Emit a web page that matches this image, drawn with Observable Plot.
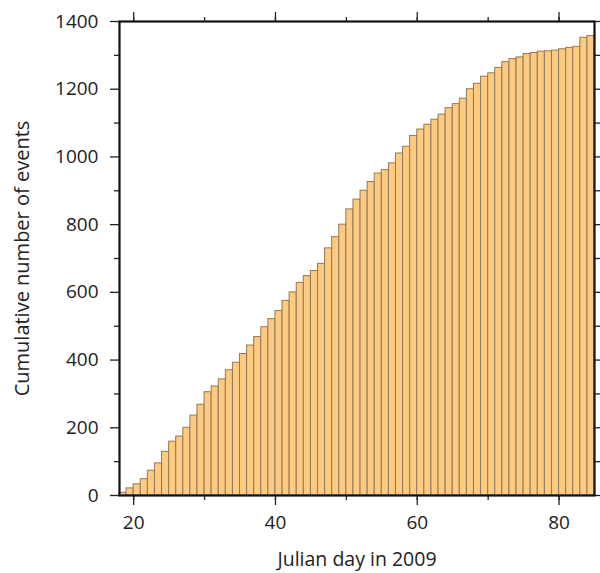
<!DOCTYPE html>
<html>
<head>
<meta charset="utf-8">
<script src="https://cdn.jsdelivr.net/npm/d3@7"></script>
<script src="https://cdn.jsdelivr.net/npm/@observablehq/plot@0.6"></script>
<style>
  html, body { margin: 0; padding: 0; background: #fff; }
  #chart { width: 600px; height: 573px; }
</style>
</head>
<body>
<div id="chart"></div>
<script>
// Julian day (start of each one-day bin) and cumulative count
const days = [18,19,20,21,22,23,24,25,26,27,28,29,30,31,32,33,34,35,36,37,38,39,40,41,42,43,44,45,46,47,48,49,50,51,52,53,54,55,56,57,58,59,60,61,62,63,64,65,66,67,68,69,70,71,72,73,74,75,76,77,78,79,80,81,82,83,84];
const counts = [8,21,33,48,73,95,129,159,174,200,236,268,305,322,343,370,392,418,443,468,497,521,545,575,600,628,648,663,684,730,763,800,845,874,900,926,951,961,981,1010,1030,1062,1081,1095,1110,1125,1144,1156,1172,1200,1216,1237,1247,1263,1280,1289,1294,1304,1307,1311,1312,1314,1318,1322,1325,1352,1357];

const xMajor = [20, 40, 60, 80];
const xMinor = [20, 30, 40, 50, 60, 70, 80];
const yMajor = [0, 200, 400, 600, 800, 1000, 1200, 1400];
const yMinor = [100, 300, 500, 700, 900, 1100, 1300];
const xTitle = "Julian day in 2009";
const yTitle = "Cumulative number of events";

const data = days.map((d, i) => ({day: d, count: counts[i]}));

const font = "'Open Sans', 'Noto Sans', sans-serif";

const chart = Plot.plot({
  width: 600,
  height: 573,
  marginLeft: 119,
  marginRight: 6,
  marginTop: 21,
  marginBottom: 78,
  style: {fontFamily: font, fontSize: "19px", color: "#222", background: "#fff"},
  x: {domain: [18, 85]},
  y: {domain: [0, 1400]},
  marks: [
    Plot.rectY(data, {
      x1: "day",
      x2: d => d.day + 1,
      y: "count",
      fill: "#fdca80",
      stroke: "#8c7a62",
      strokeWidth: 1
    }),
    // bottom axis
    Plot.axisX({anchor: "bottom", ticks: xMinor, tickSize: 5, tickFormat: () => "", strokeWidth: 1.3, label: null}),
    Plot.axisX({anchor: "bottom", ticks: xMajor, tickSize: 10, tickPadding: 10, tickFormat: "d", strokeWidth: 1.3, fontSize: 19, label: null}),
    // top axis (ticks only)
    Plot.axisX({anchor: "top", ticks: xMinor, tickSize: 5, tickFormat: () => "", strokeWidth: 1.3, label: null}),
    Plot.axisX({anchor: "top", ticks: xMajor, tickSize: 10, tickFormat: () => "", strokeWidth: 1.3, label: null}),
    // left axis
    Plot.axisY({anchor: "left", ticks: yMinor, tickSize: 5, tickFormat: () => "", strokeWidth: 1.3, label: null}),
    Plot.axisY({anchor: "left", ticks: yMajor, tickSize: 9, tickPadding: 12, tickFormat: "d", strokeWidth: 1.3, fontSize: 19, label: null}),
    // right axis (ticks only)
    Plot.axisY({anchor: "right", ticks: yMinor, tickSize: 5, tickFormat: () => "", strokeWidth: 1.3, label: null}),
    Plot.axisY({anchor: "right", ticks: yMajor, tickSize: 9, tickFormat: () => "", strokeWidth: 1.3, label: null}),
    Plot.frame({stroke: "#111", strokeWidth: 2.2}),
    Plot.text([xTitle], {frameAnchor: "bottom", dy: 64, fontSize: 19.5, fill: "#222", textAnchor: "middle", lineAnchor: "middle"}),
    Plot.text([yTitle], {frameAnchor: "left", dx: -97, rotate: -90, fontSize: 20, fill: "#222", textAnchor: "middle", lineAnchor: "middle"})
  ]
});
document.getElementById("chart").appendChild(chart);
</script>
</body>
</html>
